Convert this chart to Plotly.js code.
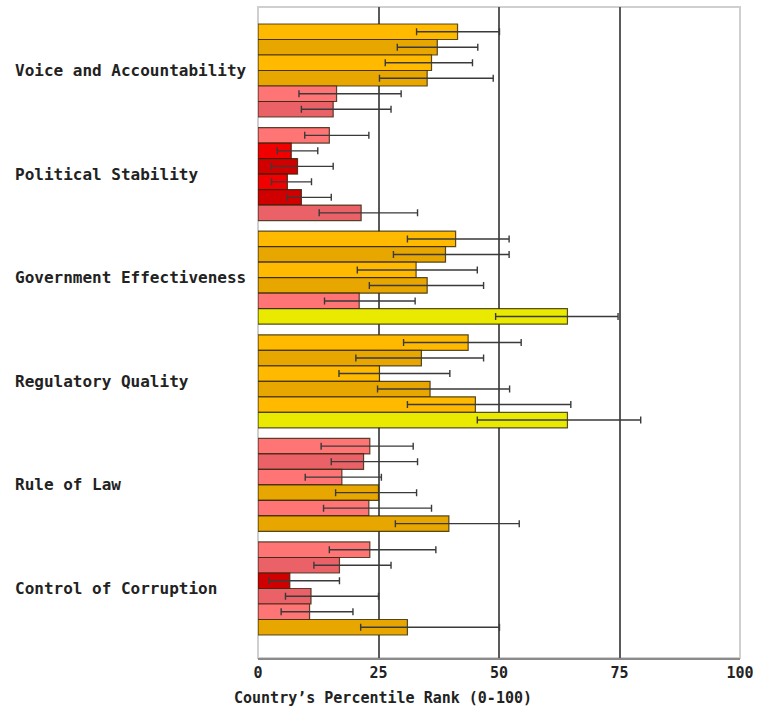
<!DOCTYPE html>
<html>
<head>
<meta charset="utf-8">
<script src="https://cdn.plot.ly/plotly-3.0.1.min.js"></script>
<style>html,body{margin:0;padding:0;background:#fff;}#chart{width:757px;height:709px;}</style>
</head>
<body>
<div id="chart"></div>
<script>
const categories = ["Voice and Accountability","Political Stability","Government Effectiveness","Regulatory Quality","Rule of Law","Control of Corruption"];
const seriesNames = ["1996","1998","2000","2002","2004","2006"];
const tickVals = [0,25,50,75,100];
const xTitle = "Country\u2019s Percentile Rank (0-100)";

const s1 = [41.4, 14.8, 41.0, 43.6, 23.2, 23.2];
const s1Lo = [32.9, 9.7, 31.0, 30.2, 13.1, 14.8];
const s1Hi = [50.1, 23.0, 52.1, 54.6, 32.2, 36.9];
const s2 = [37.2, 6.9, 38.9, 33.9, 21.9, 16.9];
const s2Lo = [28.9, 4.0, 28.1, 20.3, 15.2, 11.6];
const s2Hi = [45.6, 12.4, 52.1, 46.8, 33.1, 27.6];
const s3 = [36.0, 8.2, 32.8, 25.2, 17.4, 6.6];
const s3Lo = [26.4, 2.8, 20.6, 16.8, 9.8, 2.3];
const s3Hi = [44.5, 15.6, 45.5, 39.8, 25.6, 16.9];
const s4 = [35.1, 6.1, 35.1, 35.7, 25.0, 11.0];
const s4Lo = [25.2, 2.8, 23.1, 24.8, 16.1, 5.7];
const s4Hi = [48.8, 11.1, 46.8, 52.2, 32.9, 25.0];
const s5 = [16.3, 9.0, 21.0, 45.1, 23.0, 10.7];
const s5Lo = [8.5, 6.1, 13.8, 31.0, 13.6, 4.8];
const s5Hi = [29.7, 15.2, 32.6, 64.9, 36.0, 19.7];
const s6 = [15.6, 21.4, 64.2, 64.2, 39.6, 31.0];
const s6Lo = [9.0, 12.7, 49.3, 45.5, 28.5, 21.3];
const s6Hi = [27.6, 33.1, 74.7, 79.4, 54.2, 50.1];

const values = [s1, s2, s3, s4, s5, s6];
const lows = [s1Lo, s2Lo, s3Lo, s4Lo, s5Lo, s6Lo];
const highs = [s1Hi, s2Hi, s3Hi, s4Hi, s5Hi, s6Hi];

const oddCols  = {red:'#D00000', pink:'#FF7474', orange:'#FFBA00', yellow:'#F2F200'};
const evenCols = {red:'#F00000', pink:'#EA6268', orange:'#E8A700', yellow:'#EAEA00'};
function colorFor(v, idx){
  const pal = (idx % 2 === 0) ? oddCols : evenCols;
  if (v < 10) return pal.red;
  if (v < 25) return pal.pink;
  if (v < 50) return pal.orange;
  return pal.yellow;
}

const traces = values.map((vals, i) => ({
  type: 'bar',
  orientation: 'h',
  name: seriesNames[i],
  y: categories,
  x: vals,
  marker: {
    color: vals.map(v => colorFor(v, i)),
    line: {color: 'rgba(45,35,10,0.8)', width: 1.2}
  },
  error_x: {
    type: 'data',
    symmetric: false,
    array: vals.map((v, k) => highs[i][k] - v),
    arrayminus: vals.map((v, k) => v - lows[i][k]),
    color: '#3a3a3a',
    thickness: 1.4,
    width: 3.5
  },
  hoverinfo: 'x+y+name'
}));

const labelFont = {family: 'DejaVu Sans Mono, monospace', size: 16, color: '#222', weight: 'bold'};

const annotations = categories.map(c => ({
  xref: 'paper', yref: 'y',
  x: 0, y: c,
  xshift: -245,
  xanchor: 'left', yanchor: 'middle',
  text: c,
  showarrow: false,
  font: labelFont
}));
annotations.push({
  xref: 'paper', yref: 'paper',
  x: 0.259, y: -0.0614,
  xanchor: 'center', yanchor: 'middle',
  text: xTitle,
  showarrow: false,
  font: {family: 'DejaVu Sans Mono, monospace', size: 15, color: '#222', weight: 'bold'}
});

const layout = {
  width: 757, height: 709,
  margin: {l: 258, r: 17, t: 7, b: 51},
  paper_bgcolor: '#fff', plot_bgcolor: '#fff',
  showlegend: false,
  barmode: 'group',
  bargap: 0.102,
  bargroupgap: 0,
  xaxis: {
    range: [0, 100],
    tickvals: tickVals,
    ticktext: tickVals.map(String),
    showgrid: false,
    zeroline: false,
    showline: true,
    linecolor: '#8a8a8a',
    linewidth: 2,
    ticks: '',
    tickfont: {family: 'DejaVu Sans Mono, monospace', size: 15, color: '#222', weight: 'bold'},
    minor: {tickvals: [25, 50, 75], showgrid: true, gridcolor: '#5a5a5a', gridwidth: 2, ticks: ''}
  },
  yaxis: {
    type: 'category',
    range: [5.671, -0.613],
    showticklabels: false,
    showgrid: false,
    zeroline: false,
    showline: false,
    ticks: ''
  },
  shapes: [{
    type: 'rect', xref: 'paper', yref: 'paper',
    x0: 0, x1: 1, y0: 0, y1: 1,
    line: {color: '#cfcfcf', width: 2},
    layer: 'below'
  }],
  annotations: annotations
};

Plotly.newPlot('chart', traces, layout, {displayModeBar: false, staticPlot: true});
</script>
</body>
</html>
